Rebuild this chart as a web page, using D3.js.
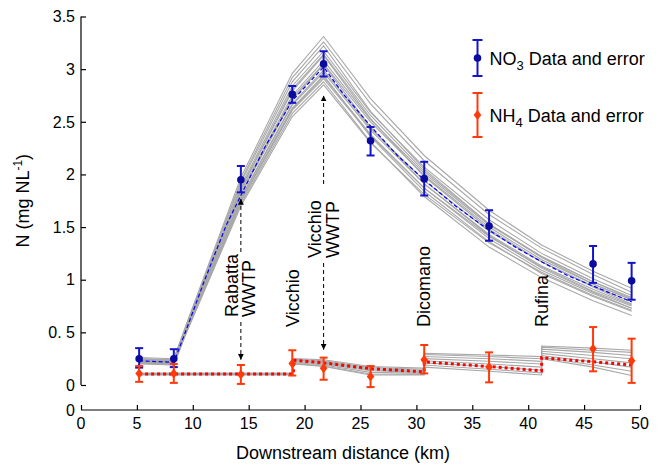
<!DOCTYPE html>
<html><head><meta charset="utf-8">
<script src="https://cdn.jsdelivr.net/npm/d3@7"></script>
<style>
body{margin:0;background:#fff}
svg{display:block}
text{font-family:Arial,"Liberation Sans",Helvetica,sans-serif;fill:#000}
</style>
</head><body>
<svg id="chart" width="659" height="468"></svg>
<script>
// ---------------- data ----------------
const xTicks = [0, 5, 10, 15, 20, 25, 30, 35, 40, 45, 50];
const yTicks = [0, 0.5, 1, 1.5, 2, 2.5, 3, 3.5];
const yTickLabels = ["0", "0. 5", "1", "1.5", "2", "2.5", "3", "3.5"];

// measurement sites (km downstream)
const siteKm = [5.2, 8.3, 14.3, 18.9, 21.7, 25.9, 30.7, 36.5, 45.8, 49.25];
const no3Mean = [0.25, 0.25, 1.95, 2.76, 3.05, 2.32, 1.96, 1.51, 1.15, 0.99];
const no3Low  = [0.165, 0.17, 1.83, 2.68, 2.93, 2.18, 1.80, 1.37, 0.97, 0.81];
const no3High = [0.35, 0.34, 2.08, 2.84, 3.17, 2.45, 2.12, 1.66, 1.32, 1.16];
const nh4Mean = [0.11, 0.11, 0.10, 0.205, 0.16, 0.08, 0.24, 0.17, 0.345, 0.23];
const nh4Low  = [0.03, 0.02, 0.01, 0.09, 0.05, -0.02, 0.11, 0.025, 0.13, 0.02];
const nh4High = [0.18, 0.20, 0.19, 0.33, 0.26, 0.18, 0.38, 0.31, 0.55, 0.44];

// NO3 best model
const no3ModelKm = [5.2, 8.3, 9.4, 11, 13, 14.3, 16.5, 18.9, 21.7, 23.5, 25.9, 28.3, 30.7, 33.5, 36.5, 39, 41.2, 43.5, 45.8, 49.25];
const no3Model   = [0.23, 0.215, 0.52, 0.98, 1.52, 1.80, 2.27, 2.70, 3.02, 2.76, 2.46, 2.18, 1.95, 1.70, 1.47, 1.30, 1.17, 1.04, 0.94, 0.79];

// NO3 ensemble runs
const no3EnsKm = [5.2, 8.3, 9.4, 14.3, 18.9, 21.7, 25.9, 30.7, 36.5, 41.2, 45.8, 49.25];
const no3Run1  = [0.26, 0.25, 0.57, 1.97, 2.96, 3.31, 2.72, 2.18, 1.66, 1.33, 1.08, 0.92];
const no3Run2  = [0.25, 0.24, 0.56, 1.94, 2.92, 3.26, 2.67, 2.13, 1.62, 1.30, 1.05, 0.88];
const no3Run3  = [0.24, 0.23, 0.55, 1.92, 2.88, 3.22, 2.60, 2.05, 1.53, 1.21, 0.96, 0.81];
const no3Run4  = [0.25, 0.23, 0.54, 1.89, 2.84, 3.17, 2.59, 2.07, 1.57, 1.25, 1.01, 0.85];
const no3Run5  = [0.23, 0.22, 0.54, 1.86, 2.79, 3.13, 2.53, 1.98, 1.48, 1.17, 0.93, 0.77];
const no3Run6  = [0.24, 0.22, 0.53, 1.84, 2.75, 3.08, 2.52, 2.01, 1.52, 1.22, 0.98, 0.83];
const no3Run7  = [0.22, 0.21, 0.52, 1.81, 2.71, 3.04, 2.45, 1.91, 1.42, 1.11, 0.88, 0.73];
const no3Run8  = [0.23, 0.21, 0.51, 1.78, 2.67, 2.99, 2.44, 1.94, 1.46, 1.17, 0.94, 0.79];
const no3Run9  = [0.21, 0.20, 0.51, 1.75, 2.63, 2.94, 2.36, 1.84, 1.36, 1.06, 0.84, 0.70];
const no3Run10 = [0.22, 0.20, 0.50, 1.74, 2.61, 2.91, 2.37, 1.87, 1.41, 1.12, 0.89, 0.75];
const no3Run11 = [0.20, 0.19, 0.49, 1.72, 2.58, 2.88, 2.31, 1.79, 1.31, 1.02, 0.80, 0.66];
const no3Run12 = [0.21, 0.19, 0.49, 1.70, 2.55, 2.85, 2.30, 1.81, 1.35, 1.07, 0.85, 0.71];
const no3Run13 = [0.24, 0.22, 0.53, 1.82, 2.73, 3.05, 2.50, 1.99, 1.50, 1.19, 0.96, 0.81];
const no3Run14 = [0.22, 0.21, 0.51, 1.77, 2.66, 2.97, 2.42, 1.91, 1.43, 1.13, 0.91, 0.76];
const no3Run15 = [0.24, 0.23, 0.54, 1.87, 2.81, 3.14, 2.56, 2.03, 1.53, 1.22, 0.98, 0.82];
const no3Run16 = [0.21, 0.20, 0.50, 1.75, 2.62, 2.93, 2.38, 1.87, 1.39, 1.09, 0.87, 0.73];

// NH4 best model (steps at tributary inputs)
const nh4ModelKm = [5.2, 19.0, 19.0, 21.7, 25.9, 30.7, 30.7, 36.5, 41.2, 41.2, 45.8, 49.25];
const nh4Model   = [0.105, 0.105, 0.235, 0.21, 0.155, 0.125, 0.22, 0.175, 0.135, 0.26, 0.22, 0.19];
const nh4Run1 = [0.11, 0.11, 0.25, 0.24, 0.175, 0.16, 0.30, 0.285, 0.27, 0.37, 0.35, 0.33];
const nh4Run2 = [0.11, 0.11, 0.245, 0.23, 0.165, 0.15, 0.29, 0.27, 0.25, 0.36, 0.33, 0.31];
const nh4Run3 = [0.105, 0.105, 0.24, 0.22, 0.155, 0.14, 0.27, 0.25, 0.225, 0.34, 0.31, 0.28];
const nh4Run4 = [0.105, 0.105, 0.235, 0.21, 0.145, 0.13, 0.25, 0.225, 0.20, 0.32, 0.28, 0.25];
const nh4Run5 = [0.10, 0.10, 0.225, 0.20, 0.135, 0.12, 0.23, 0.20, 0.17, 0.30, 0.25, 0.21];
const nh4Run6 = [0.10, 0.10, 0.215, 0.19, 0.12, 0.11, 0.21, 0.175, 0.14, 0.28, 0.22, 0.17];
const nh4Run7 = [0.10, 0.10, 0.205, 0.18, 0.105, 0.10, 0.19, 0.15, 0.115, 0.265, 0.19, 0.13];
const nh4Run8 = [0.095, 0.095, 0.20, 0.175, 0.095, 0.095, 0.17, 0.13, 0.095, 0.25, 0.17, 0.09];

// place labels
const placeNames = ["Vicchio", "Dicomano", "Rufina"];
const placeKm = [19.0, 30.7, 41.2];
const wwtpNames = ["Rabatta", "Vicchio"];
const wwtpKm = [14.3, 21.7];

const legendLabels = ["NO", "NH"];
const legendSubs = ["3", "4"];

// ---------------- drawing ----------------
const svg = d3.select("#chart");
const x = d3.scaleLinear().domain([0, 50]).range([81, 640]);
const y = d3.scaleLinear().domain([0, 3.5]).range([385, 16.5]);
const xAxisY = 410;

const BLUE_PT = "#0a0a9e", BLUE_ERR = "#1414c8", BLUE_LINE = "#0000ff";
const RED = "#ff3a0a", RED_LINE = "#ff0000", GRAY = "#a8a8a8";

const line = (kms) => d3.line().x((d, i) => x(kms[i])).y(d => y(d));

// ensemble lines
const no3Runs = [no3Run1, no3Run2, no3Run3, no3Run4, no3Run5, no3Run6, no3Run7, no3Run8,
  no3Run9, no3Run10, no3Run11, no3Run12, no3Run13, no3Run14, no3Run15, no3Run16];
const nh4Runs = [nh4Run1, nh4Run2, nh4Run3, nh4Run4, nh4Run5, nh4Run6, nh4Run7, nh4Run8];
const ens = svg.append("g");
no3Runs.forEach(r => ens.append("path").attr("d", line(no3EnsKm)(r))
  .attr("fill", "none").attr("stroke", GRAY).attr("stroke-width", 1.1));
nh4Runs.forEach(r => ens.append("path").attr("d", line(nh4ModelKm)(r))
  .attr("fill", "none").attr("stroke", GRAY).attr("stroke-width", 1.1));

// models
svg.append("path").attr("d", line(no3ModelKm)(no3Model))
  .attr("fill", "none").attr("stroke", BLUE_LINE).attr("stroke-width", 1.2)
  .attr("stroke-dasharray", "4,2.5");
svg.append("path").attr("d", line(nh4ModelKm)(nh4Model))
  .attr("fill", "none").attr("stroke", RED_LINE).attr("stroke-width", 3)
  .attr("stroke-dasharray", "3,3");

// axes
const gy = svg.append("g").attr("transform", `translate(${x(0)},0)`)
  .call(d3.axisRight(y).tickValues(yTicks).tickSize(5).tickFormat(""));
gy.select(".domain").attr("d", `M0,${y(3.5)}V${y(0)}`).attr("stroke", "#000").attr("stroke-width", 1.2);
gy.selectAll(".tick line").attr("stroke", "#000").attr("stroke-width", 1.2);
svg.append("g").selectAll("text").data(yTicks).join("text")
  .attr("x", x(0) - 6).attr("y", d => y(d)).attr("dy", "0.36em")
  .attr("text-anchor", "end").attr("font-size", 16)
  .text((d, i) => yTickLabels[i]);
svg.append("text").attr("x", x(0) - 6).attr("y", xAxisY).attr("dy", "0.36em")
  .attr("text-anchor", "end").attr("font-size", 16).text("0");

const gx = svg.append("g").attr("transform", `translate(0,${xAxisY})`)
  .call(d3.axisTop(x).tickValues(xTicks).tickSize(5).tickFormat(""));
gx.select(".domain").attr("d", `M${x(0)},0H${x(50)}`).attr("stroke", "#000").attr("stroke-width", 1.2);
gx.selectAll(".tick line").attr("stroke", "#000").attr("stroke-width", 1.2);
svg.append("g").selectAll("text").data(xTicks).join("text")
  .attr("x", d => x(d)).attr("y", xAxisY + 19).attr("text-anchor", "middle")
  .attr("font-size", 16).text(d => d);

svg.append("text").attr("x", 343).attr("y", 459)
  .attr("text-anchor", "middle").attr("font-size", 18).text("Downstream distance (km)");
const yt = svg.append("text").attr("transform", `translate(29,${(y(0) + y(3.5)) / 2}) rotate(-90)`)
  .attr("text-anchor", "middle").attr("font-size", 18);
yt.append("tspan").text("N (mg NL");
yt.append("tspan").attr("font-size", 12).attr("dy", -7).text("-1");
yt.append("tspan").attr("dy", 7).text(")");

// annotations: arrows
const defs = svg.append("defs");
defs.append("marker").attr("id", "ah").attr("viewBox", "0 0 10 10")
  .attr("refX", 10).attr("refY", 5).attr("markerWidth", 6).attr("markerHeight", 6)
  .attr("markerUnits", "userSpaceOnUse").attr("orient", "auto")
  .append("path").attr("d", "M0,0L10,5L0,10Z").attr("fill", "#000");
const arrow = (km, y1, y2) => svg.append("line")
  .attr("x1", x(km)).attr("x2", x(km)).attr("y1", y1).attr("y2", y2)
  .attr("stroke", "#000").attr("stroke-width", 1).attr("stroke-dasharray", "4,3")
  .attr("marker-end", "url(#ah)");
// Rabatta WWTP
arrow(wwtpKm[0], 252, y(1.77));
arrow(wwtpKm[0], 322, y(0.24));
// Vicchio WWTP
arrow(wwtpKm[1], 184, y(2.75));
arrow(wwtpKm[1], 263, y(0.335));

// labels (rotated)
const rotText = (px, py, txt) => svg.append("text")
  .attr("transform", `translate(${px},${py}) rotate(-90)`)
  .attr("font-size", 18).attr("text-anchor", "start").text(txt);
placeNames.forEach((n, i) => rotText(x(placeKm[i]) + 6, 327, n));
rotText(x(wwtpKm[0]) - 3, 317, wwtpNames[0]);
rotText(x(wwtpKm[0]) + 14, 317, "WWTP");
rotText(x(wwtpKm[1]) - 3, 258, wwtpNames[1]);
rotText(x(wwtpKm[1]) + 15, 258, "WWTP");

// error bars
function errBars(means, lows, highs, color) {
  const g = svg.append("g").attr("stroke", color).attr("stroke-width", 2).attr("fill", "none");
  siteKm.forEach((k, i) => {
    const cx = x(k);
    g.append("line").attr("x1", cx).attr("x2", cx).attr("y1", y(lows[i])).attr("y2", y(highs[i]));
    g.append("line").attr("x1", cx - 4).attr("x2", cx + 4).attr("y1", y(lows[i])).attr("y2", y(lows[i]));
    g.append("line").attr("x1", cx - 4).attr("x2", cx + 4).attr("y1", y(highs[i])).attr("y2", y(highs[i]));
  });
}
errBars(no3Mean, no3Low, no3High, BLUE_ERR);
errBars(nh4Mean, nh4Low, nh4High, RED);

svg.append("g").selectAll("circle").data(no3Mean).join("circle")
  .attr("cx", (d, i) => x(siteKm[i])).attr("cy", d => y(d)).attr("r", 3.8)
  .attr("fill", BLUE_PT);
const diamond = (cx, cy) => `M${cx},${cy - 5}L${cx + 3.8},${cy}L${cx},${cy + 5}L${cx - 3.8},${cy}Z`;
svg.append("g").selectAll("path").data(nh4Mean).join("path")
  .attr("d", (d, i) => diamond(x(siteKm[i]), y(d))).attr("fill", RED);

// legend
const lg = svg.append("g");
const legItem = (cx, y1, y2, cy, color, mark, label, sub) => {
  lg.append("line").attr("x1", cx).attr("x2", cx).attr("y1", y1).attr("y2", y2).attr("stroke", color).attr("stroke-width", 2);
  lg.append("line").attr("x1", cx - 5).attr("x2", cx + 5).attr("y1", y1).attr("y2", y1).attr("stroke", color).attr("stroke-width", 2);
  lg.append("line").attr("x1", cx - 5).attr("x2", cx + 5).attr("y1", y2).attr("y2", y2).attr("stroke", color).attr("stroke-width", 2);
  if (mark === "c") lg.append("circle").attr("cx", cx).attr("cy", cy).attr("r", 3.8).attr("fill", BLUE_PT);
  else lg.append("path").attr("d", diamond(cx, cy)).attr("fill", color);
  const t = lg.append("text").attr("x", cx + 12).attr("y", cy + 7).attr("font-size", 18);
  t.append("tspan").text(label);
  t.append("tspan").attr("font-size", 13).attr("dy", 5).text(sub);
  t.append("tspan").attr("dy", -5).text(" Data and error");
};
legItem(477.5, 40, 76, 58, BLUE_ERR, "c", legendLabels[0], legendSubs[0]);
legItem(477.5, 93, 137, 115, RED, "d", legendLabels[1], legendSubs[1]);
</script>
</body></html>
